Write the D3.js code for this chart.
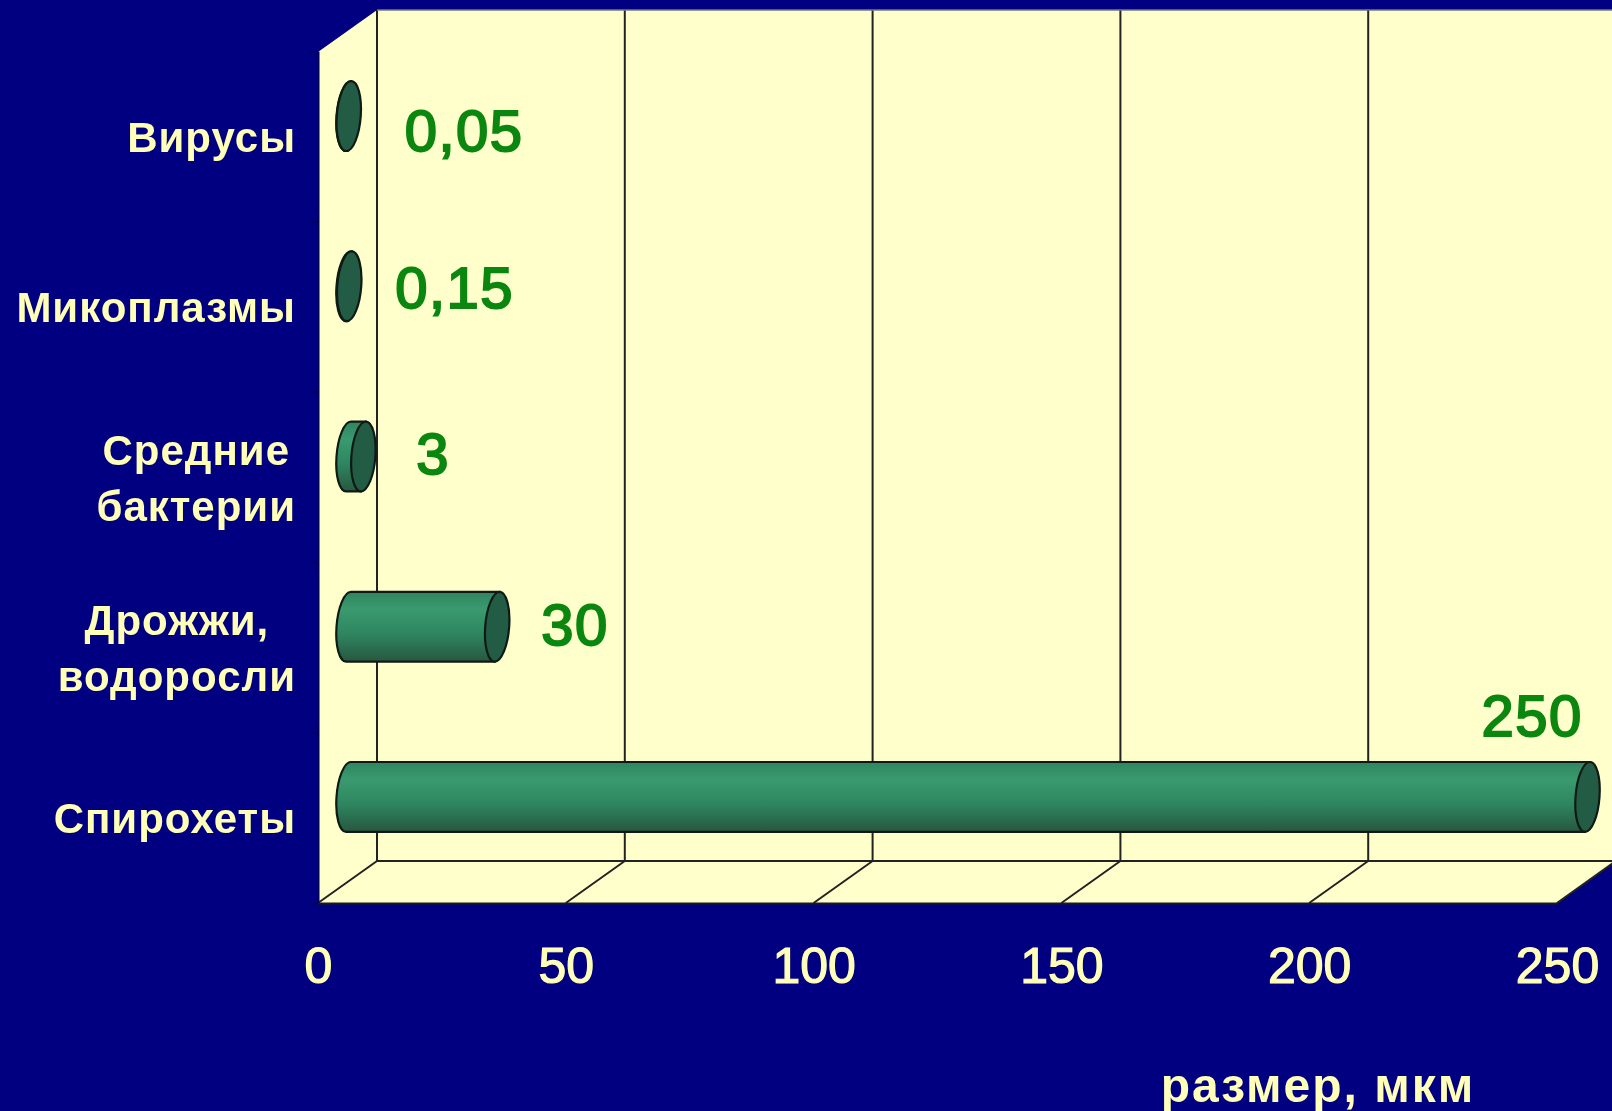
<!DOCTYPE html>
<html>
<head>
<meta charset="utf-8">
<style>
	html, body { margin: 0; padding: 0; background: #000080; }
	svg { display: block; filter: blur(0.6px); }
	text { font-family: "Liberation Sans", Arial, sans-serif; font-weight: bold; }
</style>
<script src="https://cdn.jsdelivr.net/npm/d3@7"></script>
</head>
<body>
<svg id="chart"></svg>
<script>
const categories = ["Вирусы", "Микоплазмы", "Средние\nбактерии", "Дрожжи,\nводоросли", "Спирохеты"];
const sizes = [0.05, 0.15, 3, 30, 250];
const xTicks = [0, 50, 100, 150, 200, 250];
const axisTitle = "размер, мкм";

const width = 1612, height = 1111;
const left = 318, right = 1557, top_ = 52, bottom = 903;
const depthX = 59, depthY = 42; // 3d offset of the back wall

// value labels were hand placed in the original slide: [dx from bar end, dy from bar centre]
const labelNudge = [[45, 35], [35, 22], [42, 17], [33, 18], [-117, -61]];

const svg = d3.select("#chart").attr("width", width).attr("height", height);

const defs = svg.append("defs");
const grad = defs.append("linearGradient").attr("id", "barFill")
	.attr("x1", 0).attr("y1", 0).attr("x2", 0).attr("y2", 1);
grad.append("stop").attr("offset", "0%").attr("stop-color", "#2f8560");
grad.append("stop").attr("offset", "25%").attr("stop-color", "#3a9a6e");
grad.append("stop").attr("offset", "60%").attr("stop-color", "#2e8660");
grad.append("stop").attr("offset", "100%").attr("stop-color", "#28573f");

const x = d3.scaleLinear().domain([0, 250]).range([left, right]);
const y = d3.scaleBand().domain(categories).range([top_, bottom]);

// walls and floor
const wallFill = "#ffffcc", textFill = "#ffffb8", lineColor = "#222";
svg.append("rect")
	.attr("x", left + depthX).attr("y", top_ - depthY)
	.attr("width", width).attr("height", bottom - top_)
	.attr("fill", wallFill);
svg.append("polygon")
	.attr("points", [[left, top_], [left + depthX, top_ - depthY], [left + depthX, bottom - depthY], [left, bottom]].join(" "))
	.attr("fill", wallFill);
svg.append("polygon")
	.attr("points", [[left, bottom], [right, bottom], [right + depthX, bottom - depthY], [left + depthX, bottom - depthY]].join(" "))
	.attr("fill", wallFill);

// grid on back wall and floor
svg.append("g").selectAll("line.back")
	.data(xTicks)
	.enter()
	.append("line")
	.attr("x1", d => x(d) + depthX).attr("x2", d => x(d) + depthX)
	.attr("y1", top_ - depthY).attr("y2", bottom - depthY)
	.attr("stroke", lineColor).attr("stroke-width", 2);
svg.append("g").selectAll("line.floor")
	.data(xTicks)
	.enter()
	.append("line")
	.attr("x1", d => x(d)).attr("x2", d => x(d) + depthX)
	.attr("y1", bottom).attr("y2", bottom - depthY)
	.attr("stroke", lineColor).attr("stroke-width", 2);
svg.append("line")
	.attr("x1", left + depthX).attr("x2", right + depthX)
	.attr("y1", bottom - depthY).attr("y2", bottom - depthY)
	.attr("stroke", lineColor).attr("stroke-width", 2);
svg.append("line")
	.attr("x1", left + depthX).attr("x2", width)
	.attr("y1", top_ - depthY).attr("y2", top_ - depthY)
	.attr("stroke", "#777").attr("stroke-width", 1.5);

// left axis, only slightly darker than the background
const yAxisG = svg.append("g")
	.attr("transform", `translate(${left},0)`)
	.call(d3.axisLeft(y).tickFormat("").tickSize(7));
yAxisG.selectAll("path, line").attr("stroke", "#00005c").attr("stroke-width", 2);
yAxisG.selectAll(".tick").attr("transform", d => `translate(0,${y(d)})`);

// bottom axis
const xAxisG = svg.append("g")
	.attr("transform", `translate(0,${bottom})`)
	.call(d3.axisBottom(x).tickValues(xTicks).tickSize(0).tickPadding(44));
xAxisG.select(".domain").attr("stroke", "#1a1a1a").attr("stroke-width", 2);
xAxisG.selectAll("text")
	.attr("fill", textFill)
	.style("font-size", "50px")
	.style("font-weight", "normal")
	.style("stroke", textFill)
	.style("stroke-width", "1.2px");

// cylinders
const barH = y.bandwidth() * 0.41, rx = 12, ry = barH / 2;
const skew = -4;
const barCy = d => y(d) + y.bandwidth() / 2 - depthY / 2;
const x0 = x(0) + depthX / 2;
const barEnd = d => x(d) + depthX / 2;

const bars = svg.append("g").selectAll("g")
	.data(categories)
	.enter()
	.append("g")
	.attr("transform", d => `translate(1,${barCy(d)}) skewX(${skew})`);

bars.append("path")
	.attr("d", (d, i) => `M${x0},${-ry} L${barEnd(sizes[i])},${-ry} L${barEnd(sizes[i])},${ry} L${x0},${ry} A${rx},${ry} 0 0 1 ${x0},${-ry} Z`)
	.attr("fill", "url(#barFill)")
	.attr("stroke", "#101a15")
	.attr("stroke-width", 2.2);
bars.append("ellipse")
	.attr("cx", (d, i) => barEnd(sizes[i]))
	.attr("cy", 0)
	.attr("rx", rx)
	.attr("ry", ry)
	.attr("fill", "#225c45")
	.attr("stroke", "#101a15")
	.attr("stroke-width", 2.2);

// value labels
svg.append("g").selectAll("text")
	.data(sizes)
	.enter()
	.append("text")
	.attr("x", (d, i) => barEnd(d) + rx + labelNudge[i][0])
	.attr("y", (d, i) => barCy(categories[i]) + labelNudge[i][1])
	.attr("fill", "#0b870f")
	.style("font-size", "58px")
	.style("font-weight", "normal")
	.style("letter-spacing", "1.5px")
	.style("stroke", "#0b870f")
	.style("stroke-width", "2px")
	.text(d => String(d).replace(".", ","));

// category labels, centred on the widest line and right aligned as a block
const lineGap = 56, labelRight = 296;
const catLabels = svg.append("g").selectAll("g")
	.data(categories)
	.enter()
	.append("text")
	.attr("fill", textFill)
	.style("font-size", "42px")
	.style("letter-spacing", "1px")
	.attr("text-anchor", "middle");
catLabels.each(function (d) {
	const lines = d.split("\n");
	const t = d3.select(this);
	const spans = t.selectAll("tspan")
		.data(lines)
		.enter()
		.append("tspan")
		.attr("y", (l, i) => y(d) + y.bandwidth() / 2 + 15 + (i - (lines.length - 1) / 2) * lineGap)
		.text(l => l);
	const widest = d3.max(spans.nodes(), n => n.getComputedTextLength());
	spans.attr("x", labelRight - widest / 2);
});

// axis title
svg.append("text")
	.attr("x", 1318)
	.attr("y", 1102)
	.attr("text-anchor", "middle")
	.attr("fill", textFill)
	.style("font-size", "48px")
	.style("letter-spacing", "2px")
	.text(axisTitle);
</script>
</body>
</html>
